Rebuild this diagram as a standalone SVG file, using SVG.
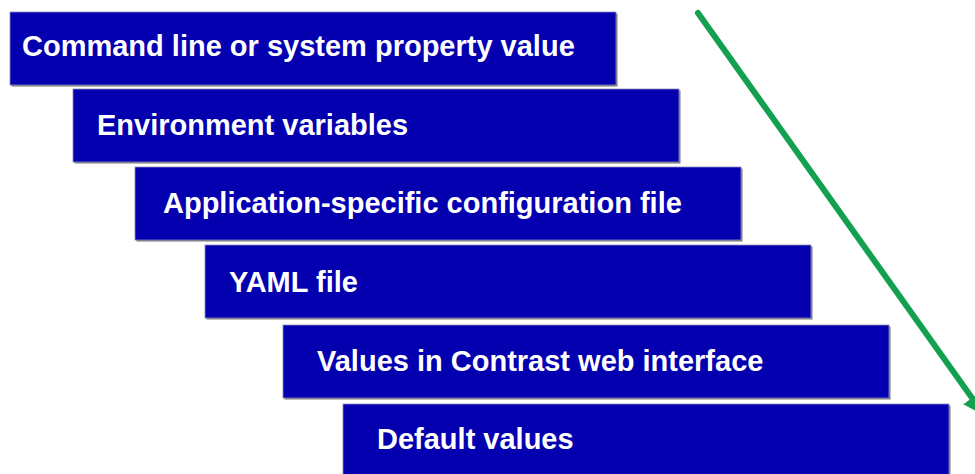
<svg xmlns="http://www.w3.org/2000/svg" width="975" height="474" viewBox="0 0 975 474">
  <defs>
    <style>
      .box { fill: #0500AF; stroke: #8a8ab8; stroke-width: 0.8; }
      .shadow { fill: #7a7a7a; }
      .lbl { fill: #ffffff; font-family: "Liberation Sans", Arial, sans-serif; font-weight: bold; font-size: 29px; }
      .arrow { stroke: #13A050; stroke-width: 6; stroke-linecap: round; fill: none; }
    </style>
    <marker id="ah" viewBox="0 0 10 10" refX="8" refY="5" markerWidth="3.6" markerHeight="3.6" orient="auto" markerUnits="strokeWidth">
      <path d="M0,0 L10,5 L0,10 z" fill="#13A050"/>
    </marker>
  </defs>
  <rect width="975" height="474" fill="#ffffff"/>
  <g id="n1">
    <rect class="shadow" x="11.5" y="13.5" width="606" height="73"/>
    <rect class="box" x="10" y="12" width="606" height="73"/>
    <text class="lbl" x="22" y="56">Command line or system property value</text>
  </g>
  <g id="n2">
    <rect class="shadow" x="74.5" y="90.5" width="606" height="73"/>
    <rect class="box" x="73" y="89" width="606" height="73"/>
    <text class="lbl" x="97" y="135">Environment variables</text>
  </g>
  <g id="n3">
    <rect class="shadow" x="136.5" y="168.5" width="606" height="73"/>
    <rect class="box" x="135" y="167" width="606" height="73"/>
    <text class="lbl" x="163" y="213">Application-specific configuration file</text>
  </g>
  <g id="n4">
    <rect class="shadow" x="206.5" y="246.5" width="606" height="73"/>
    <rect class="box" x="205" y="245" width="606" height="73"/>
    <text class="lbl" x="229" y="292">YAML file</text>
  </g>
  <g id="n5">
    <rect class="shadow" x="284.5" y="326.5" width="606" height="73"/>
    <rect class="box" x="283" y="325" width="606" height="73"/>
    <text class="lbl" x="317" y="371">Values in Contrast web interface</text>
  </g>
  <g id="n6">
    <rect class="shadow" x="344.5" y="405.5" width="606" height="73"/>
    <rect class="box" x="343" y="404" width="606" height="73"/>
    <text class="lbl" x="377" y="449">Default values</text>
  </g>
  <g id="connectors">
    <line class="arrow" x1="698" y1="13" x2="982" y2="412" marker-end="url(#ah)"/>
  </g>
</svg>
